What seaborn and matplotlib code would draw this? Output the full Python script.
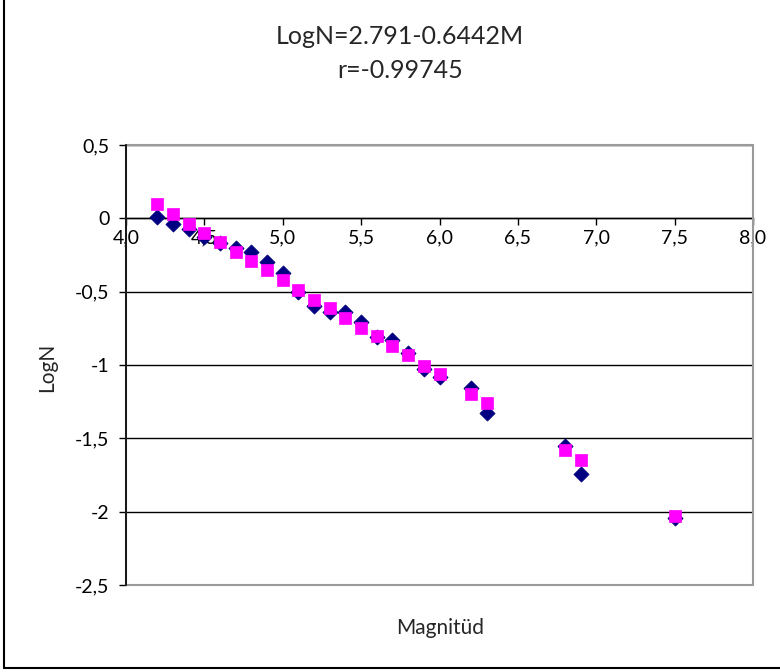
import matplotlib
matplotlib.use('Agg')
import matplotlib.pyplot as plt
import seaborn as sns
from matplotlib.patches import Rectangle
from matplotlib.lines import Line2D
from matplotlib.ticker import FuncFormatter, MultipleLocator

# magnitude classes and log counts
magnitude = [4.2, 4.3, 4.4, 4.5, 4.6, 4.7, 4.8, 4.9, 5.0, 5.1, 5.2, 5.3,
             5.4, 5.5, 5.6, 5.7, 5.8, 5.9, 6.0, 6.2, 6.3, 6.8, 6.9, 7.5]
logn_observed = [0.01, -0.04, -0.07, -0.13, -0.17, -0.20, -0.23, -0.30, -0.37, -0.50, -0.60, -0.64,
                 -0.64, -0.71, -0.81, -0.83, -0.92, -1.03, -1.08, -1.16, -1.33, -1.55, -1.74, -2.04]
logn_fitted = [0.10, 0.03, -0.04, -0.10, -0.16, -0.23, -0.29, -0.35, -0.42, -0.49, -0.56, -0.61,
               -0.68, -0.75, -0.80, -0.87, -0.93, -1.01, -1.06, -1.20, -1.26, -1.58, -1.65, -2.03]

TITLE_1 = 'LogN=2.791-0.6442M'
TITLE_2 = 'r=-0.99745'

sns.set_style('white')
plt.rcParams['font.family'] = ['Lato', 'DejaVu Sans']


def x_fmt(v, pos=None):
    return f'{v:.1f}'.replace('.', ',')


def y_fmt(v, pos=None):
    if abs(v - round(v)) < 1e-9:
        return f'{int(round(v))}'
    return f'{v:.1f}'.replace('.', ',')


fig = plt.figure(figsize=(7.8, 6.72), dpi=100)
ax = fig.add_axes([126 / 780, 1 - 585 / 672, (753 - 126) / 780, (585 - 145) / 672])

sns.scatterplot(x=magnitude, y=logn_observed, ax=ax, marker='D', s=60, color='#000080',
                edgecolor='#000080', linewidth=0.5, zorder=4)
sns.scatterplot(x=magnitude, y=logn_fitted, ax=ax, marker='s', s=80, color='#FF00FF',
                edgecolor='#FF00FF', linewidth=0.5, zorder=5)

ax.set_xlim(4.0, 8.0)
ax.set_ylim(-2.5, 0.5)
ax.xaxis.set_major_locator(MultipleLocator(0.5))
ax.yaxis.set_major_locator(MultipleLocator(0.5))
ax.xaxis.set_major_formatter(FuncFormatter(x_fmt))
ax.yaxis.set_major_formatter(FuncFormatter(y_fmt))

ax.yaxis.grid(True, color='black', linewidth=1.0, zorder=1)
ax.set_axisbelow(True)

for side in ['top', 'right']:
    ax.spines[side].set_visible(False)
ax.spines['left'].set_color('black')
ax.spines['left'].set_linewidth(1.2)
ax.spines['bottom'].set_position(('data', 0))
ax.spines['bottom'].set_color('black')
ax.spines['bottom'].set_linewidth(1.0)

ax.tick_params(axis='both', direction='out', length=5, width=1, color='black',
               labelsize=14, labelcolor='black', pad=4)
ax.tick_params(axis='y', left=True, pad=7)
ax.tick_params(axis='x', bottom=True, pad=3)

# grey plot-area border (Excel style)
ax.add_patch(Rectangle((0, 0), 1, 1, transform=ax.transAxes, fill=False,
                       edgecolor='#9a9a9a', linewidth=1.5, zorder=3, clip_on=False))
ax.spines['left'].set_zorder(6)

fig.text(0.513, 1 - 37 / 672, TITLE_1, ha='center', va='center', fontsize=18)
fig.text(0.513, 1 - 70 / 672, TITLE_2, ha='center', va='center', fontsize=18)
fig.text(440 / 780, 1 - 628 / 672, 'Magnitüd', ha='center', va='center', fontsize=15)
fig.text(47 / 780, 1 - 367 / 672, 'LogN', ha='center', va='center', rotation=90, fontsize=15)

# outer chart frame (left and bottom edges visible)
fig.add_artist(Line2D([4 / 780, 4 / 780], [1 - 668 / 672, 1], transform=fig.transFigure,
                      color='black', linewidth=1.5))
fig.add_artist(Line2D([4 / 780, 1], [1 - 668 / 672, 1 - 668 / 672], transform=fig.transFigure,
                      color='black', linewidth=1.5))

fig.savefig('out.png', dpi=100)
